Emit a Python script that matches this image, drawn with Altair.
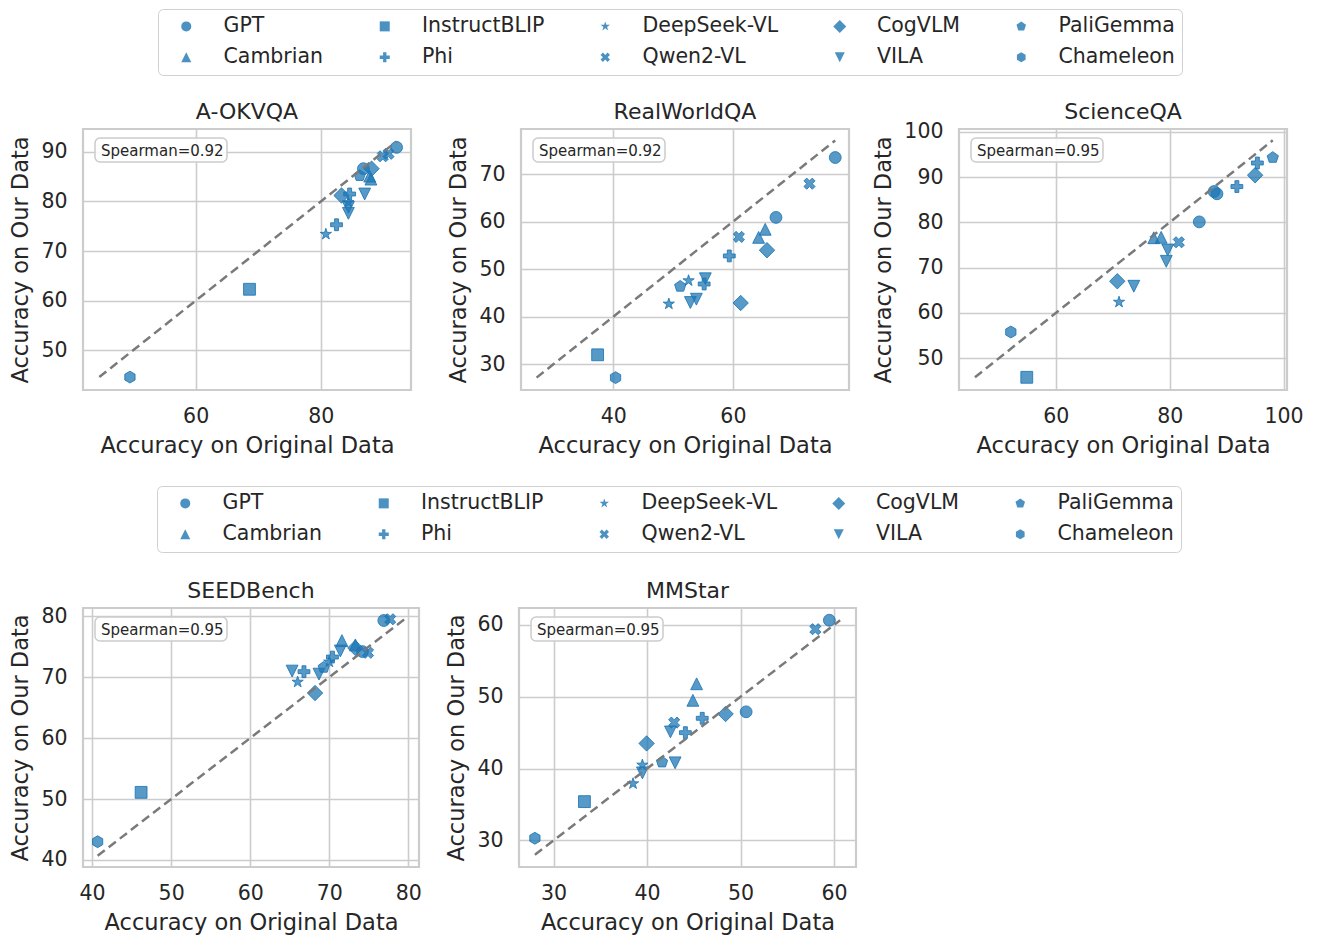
import math
import altair as alt
import pandas as pd

BLUE = "#1f77b4"
INK = "#262626"
FONT = "DejaVu Sans"

# legend order (Vega fills the 2 x 5 grid column by column here)
LEGEND_ORDER = ["GPT", "Cambrian", "InstructBLIP", "Phi", "DeepSeek-VL",
                "Qwen2-VL", "CogVLM", "VILA", "PaliGemma", "Chameleon"]

# ---------------- data ----------------
aok_family = ["GPT", "GPT", "Cambrian", "Cambrian", "InstructBLIP", "Phi", "Phi",
              "DeepSeek-VL", "DeepSeek-VL", "Qwen2-VL", "Qwen2-VL", "CogVLM", "CogVLM",
              "VILA", "VILA", "VILA", "PaliGemma", "Chameleon"]
aok_x = [86.8, 92.1, 87.8, 88.0, 68.6, 82.5, 84.6, 80.8, 84.4, 90.8, 89.9, 83.3, 88.1,
         87.0, 84.4, 84.4, 86.2, 49.5]
aok_y = [86.6, 90.9, 85.1, 84.5, 62.3, 75.3, 81.5, 73.4, 79.8, 89.6, 89.1, 81.2, 86.6,
         81.5, 78.8, 77.6, 85.2, 44.6]

rw_family = ["GPT", "GPT", "Qwen2-VL", "Qwen2-VL", "Cambrian", "Cambrian", "CogVLM", "CogVLM",
             "Phi", "Phi", "PaliGemma", "DeepSeek-VL", "DeepSeek-VL", "VILA", "VILA", "VILA",
             "InstructBLIP", "Chameleon"]
rw_x = [77.1, 67.2, 72.8, 61.0, 65.4, 64.3, 65.7, 61.3, 59.4, 55.2, 51.2, 52.6, 49.3,
        55.4, 52.9, 53.9, 37.4, 40.4]
rw_y = [73.5, 60.9, 68.0, 56.8, 58.4, 56.7, 54.0, 42.9, 52.8, 46.9, 46.4, 47.6, 42.7,
        48.0, 43.0, 43.7, 32.0, 27.2]

sqa_family = ["PaliGemma", "Phi", "Phi", "CogVLM", "CogVLM", "GPT", "GPT", "GPT",
              "Cambrian", "Cambrian", "Qwen2-VL", "VILA", "VILA", "VILA", "DeepSeek-VL",
              "Chameleon", "InstructBLIP"]
sqa_x = [98.1, 95.4, 91.8, 95.0, 70.8, 88.3, 85.2, 87.8, 77.2, 78.5, 81.6, 79.65, 79.4,
         73.7, 71.1, 52.1, 54.9]
sqa_y = [94.3, 93.1, 87.9, 90.4, 67.0, 86.3, 80.1, 86.8, 76.6, 76.7, 75.6, 73.9, 71.4,
         65.9, 62.4, 55.8, 45.8]

seed_family = ["Chameleon", "InstructBLIP", "CogVLM", "CogVLM", "DeepSeek-VL", "DeepSeek-VL",
               "VILA", "VILA", "VILA", "Phi", "Phi", "PaliGemma", "Cambrian", "Cambrian",
               "Qwen2-VL", "Qwen2-VL", "GPT", "GPT"]
seed_x = [40.7, 46.2, 68.2, 73.3, 66.0, 70.0, 65.3, 68.7, 71.4, 66.8, 70.4, 69.3, 71.6,
          73.3, 74.9, 77.7, 76.9, 74.2]
seed_y = [43.0, 51.1, 67.4, 74.8, 69.2, 72.5, 71.0, 70.5, 74.3, 70.9, 73.3, 71.6, 76.0,
          75.3, 74.0, 79.5, 79.3, 74.2]

mms_family = ["GPT", "GPT", "Qwen2-VL", "Qwen2-VL", "Cambrian", "Cambrian", "CogVLM", "CogVLM",
              "Phi", "Phi", "VILA", "VILA", "VILA", "PaliGemma", "DeepSeek-VL", "DeepSeek-VL",
              "InstructBLIP", "Chameleon"]
mms_x = [59.5, 50.6, 58.0, 42.9, 45.3, 44.9, 48.4, 39.95, 45.9, 44.1, 42.5, 43.0, 39.5,
         41.6, 39.5, 38.5, 33.3, 28.0]
mms_y = [60.65, 47.9, 59.4, 46.4, 51.8, 49.5, 47.6, 43.5, 47.0, 45.0, 45.1, 40.8, 39.4,
         40.9, 40.5, 37.9, 35.4, 30.3]

titles = ["A-OKVQA", "RealWorldQA", "ScienceQA", "SEEDBench", "MMStar"]
spearman = [0.92, 0.92, 0.95, 0.95, 0.95]

x_domains = [[42.0, 94.4], [24.6, 79.4], [43.0, 100.6], [38.85, 81.35], [26.3, 62.35]]
y_domains = [[42.0, 94.6], [24.6, 79.5], [43.0, 100.6], [38.85, 81.35], [26.3, 62.35]]
x_ticks = [[60, 80], [40, 60], [60, 80, 100], [40, 50, 60, 70, 80], [30, 40, 50, 60]]
y_ticks = [[50, 60, 70, 80, 90], [30, 40, 50, 60, 70], [50, 60, 70, 80, 90, 100],
           [40, 50, 60, 70, 80], [30, 40, 50, 60]]
# compensate for tick labels that poke above the plot (title stays level)
title_dy = [0, 0, 7, 2, 0]


# ---------------- marker shapes (matplotlib-like) ----------------
def poly(pts):
    return "M" + "L".join(f"{x:.3f},{y:.3f}" for x, y in pts) + "Z"


def regular(n, r=1.0):
    return poly([(r * math.cos(math.radians(-90 + 360 * k / n)),
                  r * math.sin(math.radians(-90 + 360 * k / n))) for k in range(n)])


def star(r=1.0, inner=0.382):
    pts = []
    for k in range(10):
        a = math.radians(-90 + 36 * k)
        rr = r if k % 2 == 0 else r * inner
        pts.append((rr * math.cos(a), rr * math.sin(a)))
    return poly(pts)


PLUS_PTS = [(-1, -3), (1, -3), (1, -1), (3, -1), (3, 1), (1, 1), (1, 3), (-1, 3),
            (-1, 1), (-3, 1), (-3, -1), (-1, -1)]
plus_path = poly([(x / 3.0, y / 3.0) for x, y in PLUS_PTS])
x_path = poly([((x - y) / (3.0 * math.sqrt(2)), (x + y) / (3.0 * math.sqrt(2))) for x, y in PLUS_PTS])

SHAPES = {
    "GPT": "circle",
    "Cambrian": "M0,-1L1,1L-1,1Z",
    "InstructBLIP": "square",
    "Phi": plus_path,
    "DeepSeek-VL": star(),
    "Qwen2-VL": x_path,
    "CogVLM": "M0,-1.3L1.3,0L0,1.3L-1.3,0Z",
    "VILA": "M0,1L1,-1L-1,-1Z",
    "PaliGemma": regular(5),
    "Chameleon": regular(6),
}
shape_scale = alt.Scale(domain=LEGEND_ORDER, range=[SHAPES[f] for f in LEGEND_ORDER])


def panel(i, fam, xs, ys, w, h):
    df = pd.DataFrame({"family": fam, "x": xs, "y": ys})
    lo = min(min(xs), min(ys))
    hi = max(max(xs), max(ys))
    diag = pd.DataFrame({"x": [lo, hi], "y": [lo, hi]})
    xsc = alt.Scale(domain=x_domains[i], nice=False, zero=False)
    ysc = alt.Scale(domain=y_domains[i], nice=False, zero=False)
    pts = alt.Chart(df).mark_point(
        filled=True, size=140, fill=BLUE, fillOpacity=0.75,
        stroke=BLUE, strokeOpacity=0.85, strokeWidth=1
    ).encode(
        x=alt.X("x:Q", scale=xsc, axis=alt.Axis(values=x_ticks[i], title="Accuracy on Original Data")),
        y=alt.Y("y:Q", scale=ysc, axis=alt.Axis(values=y_ticks[i], title="Accuracy on Our Data")),
        shape=alt.Shape("family:N", scale=shape_scale, legend=None),
    )
    line = alt.Chart(diag).mark_line(color="#7a7a7a", strokeDash=[9, 5], strokeWidth=2.5).encode(
        x=alt.X("x:Q", scale=xsc), y=alt.Y("y:Q", scale=ysc)
    )
    lab = pd.DataFrame({"t": [f"Spearman={spearman[i]:.2f}"]})
    box = alt.Chart(lab).mark_rect(
        fill="white", fillOpacity=0.85, stroke="#cccccc", strokeWidth=1.5, cornerRadius=5
    ).encode(x=alt.value(12), x2=alt.value(144), y=alt.value(9), y2=alt.value(33))
    txt = alt.Chart(lab).mark_text(
        align="left", baseline="alphabetic", fontSize=15, color=INK, font=FONT
    ).encode(x=alt.value(18), y=alt.value(27), text="t:N")
    ttl = alt.TitleParams(text=titles[i], dy=title_dy[i]) if title_dy[i] else titles[i]
    return alt.layer(pts, line, box, txt).properties(width=w, height=h, title=ttl)


def legend_chart(lx, ly, h):
    df = pd.DataFrame({"family": LEGEND_ORDER})
    return alt.Chart(df).mark_point(filled=True, opacity=0, color=BLUE).encode(
        shape=alt.Shape("family:N", scale=shape_scale, legend=alt.Legend(
            orient="none", legendX=lx, legendY=ly, offset=0, columns=5, title=None,
            symbolSize=100, symbolFillColor=BLUE, symbolStrokeColor=BLUE,
            symbolOpacity=0.8, symbolStrokeWidth=1, symbolOffset=11,
            labelFontSize=20.5, labelFont=FONT, labelColor=INK, labelOffset=27,
            columnPadding=39.5, rowPadding=10, padding=7,
            strokeColor="#d0d0d0", fillColor="white", cornerRadius=5,
        ))
    ).properties(width=1110, height=h, view=alt.ViewBackground(stroke="transparent"))


row1 = alt.hconcat(
    panel(0, aok_family, aok_x, aok_y, 328, 261),
    panel(1, rw_family, rw_x, rw_y, 328, 261),
    panel(2, sqa_family, sqa_x, sqa_y, 328, 261),
    spacing=110, bounds="flush",
)
row2 = alt.hconcat(
    panel(3, seed_family, seed_x, seed_y, 336, 259),
    panel(4, mms_family, mms_x, mms_y, 337, 259),
    spacing=100, bounds="flush",
)

chart = alt.vconcat(
    legend_chart(75, 0, 67), row1, legend_chart(74, 4, 73), row2, spacing=22
).resolve_scale(shape="independent").properties(padding=0).configure(
    font=FONT
).configure_axis(
    grid=True, gridColor="#cccccc", gridWidth=1.6, ticks=False, domain=False,
    labelFontSize=20.5, labelColor=INK, labelFont=FONT, labelFlush=False,
    titleFontSize=22.5, titleFontWeight="normal", titleColor=INK, titleFont=FONT,
).configure_axisX(labelPadding=16, titlePadding=8).configure_axisY(
    labelPadding=16, titlePadding=8
).configure_view(stroke="#cccccc", strokeWidth=2.2).configure_title(
    fontSize=22, fontWeight="normal", color=INK, offset=5, font=FONT
)

chart.save("out.html", embed_options={"renderer": "svg", "actions": False})
